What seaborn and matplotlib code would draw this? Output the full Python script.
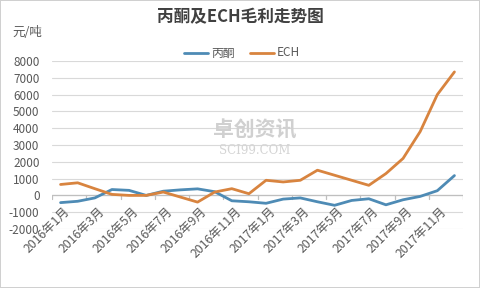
import matplotlib
matplotlib.use("Agg")
import matplotlib.pyplot as plt
import matplotlib.transforms as mtransforms
import numpy as np
import pandas as pd
import seaborn as sns

months = [f"{y}年{m}月" for y in (2016, 2017) for m in range(1, 13)]
acetone = [-430, -350, -150, 350, 300, 0, 250, 330, 390, 220, -320, -380,
           -470, -220, -150, -380, -590, -300, -200, -560, -260, -60, 280, 1180]
ech = [650, 750, 400, 60, 0, 0, 200, -100, -400, 200, 400, 100,
       900, 800, 900, 1500, 1200, 900, 600, 1300, 2200, 3800, 6000, 7350]
series_names = ["丙酮", "ECH"]
yticks = list(range(-2000, 8001, 1000))

sns.set_theme(style="white")
plt.rcParams['font.family'] = ['Noto Sans CJK SC', 'DejaVu Sans']

df = pd.DataFrame({
    "idx": list(range(len(months))) * 2,
    "value": acetone + ech,
    "series": [series_names[0]] * len(months) + [series_names[1]] * len(months),
})

fig = plt.figure(figsize=(4.8, 2.88), dpi=100)
fig.patch.set_facecolor("white")
fig.patch.set_edgecolor("#d0d0d0")
fig.patch.set_linewidth(1.2)
ax = fig.add_axes([52/480, 1-229/288, 411/480, 168/288])

colors = {"丙酮": "#4e8bb5", "ECH": "#d8843f"}
sns.lineplot(data=df, x="idx", y="value", hue="series", palette=colors,
             linewidth=2.0, ax=ax, legend=False)

ax.set_xlim(-0.5, 23.5)
ax.set_ylim(-2000, 8000)
ax.set_yticks(yticks)
ax.set_yticklabels([str(v) for v in yticks], fontsize=8.5, color="#595959")
ax.tick_params(axis="y", length=0, pad=9)
ax.set_xticks([])
ax.set_xlabel("")
ax.set_ylabel("")
for s in ax.spines.values():
    s.set_visible(False)
ax.grid(axis="y", color="#d9d9d9", linewidth=0.8)
ax.set_axisbelow(True)

# zero axis line with tick marks
ax.axhline(0, color="#bfbfbf", linewidth=0.9, zorder=1)
for b in np.arange(-0.5, 24, 2):
    ax.plot([b, b], [0, -230], color="#bfbfbf", linewidth=0.9, zorder=1)

# category labels next to zero axis
trans = mtransforms.offset_copy(ax.transData, fig=fig, x=2, y=-7, units="points")
for i in range(0, len(months), 2):
    ax.text(i, 0, months[i], transform=trans, rotation=45, ha="right", va="top",
            rotation_mode="anchor", fontsize=8.8, color="#595959")

# title, unit, legend
fig.text(0.5, 1-17/288, "丙酮及ECH毛利走势图", ha="center", va="center",
         fontsize=12, fontweight="bold", color="#404040")
fig.text(12/480, 1-32/288, "元/吨", ha="left", va="center", fontsize=9, color="#595959")
for name, x0 in zip(series_names, (184, 250)):
    fig.add_artist(plt.Line2D([x0/480, (x0+24)/480], [1-53/288, 1-53/288],
                              color=colors[name], linewidth=2.0))
    fig.text((x0+27)/480, 1-53/288, name, ha="left", va="center", fontsize=8.5,
             color="#595959")

# watermark
fig.text(0.53, 1-130/288, "卓创资讯", ha="center", va="center", fontsize=15,
         color="#d0d0d0", fontweight="bold", zorder=0)
fig.text(0.53, 1-150/288, "SCI99.COM", ha="center", va="center", fontsize=8.5,
         color="#d4d4d4", family=["DejaVu Serif"], zorder=0)

fig.savefig("out.png", dpi=100)
